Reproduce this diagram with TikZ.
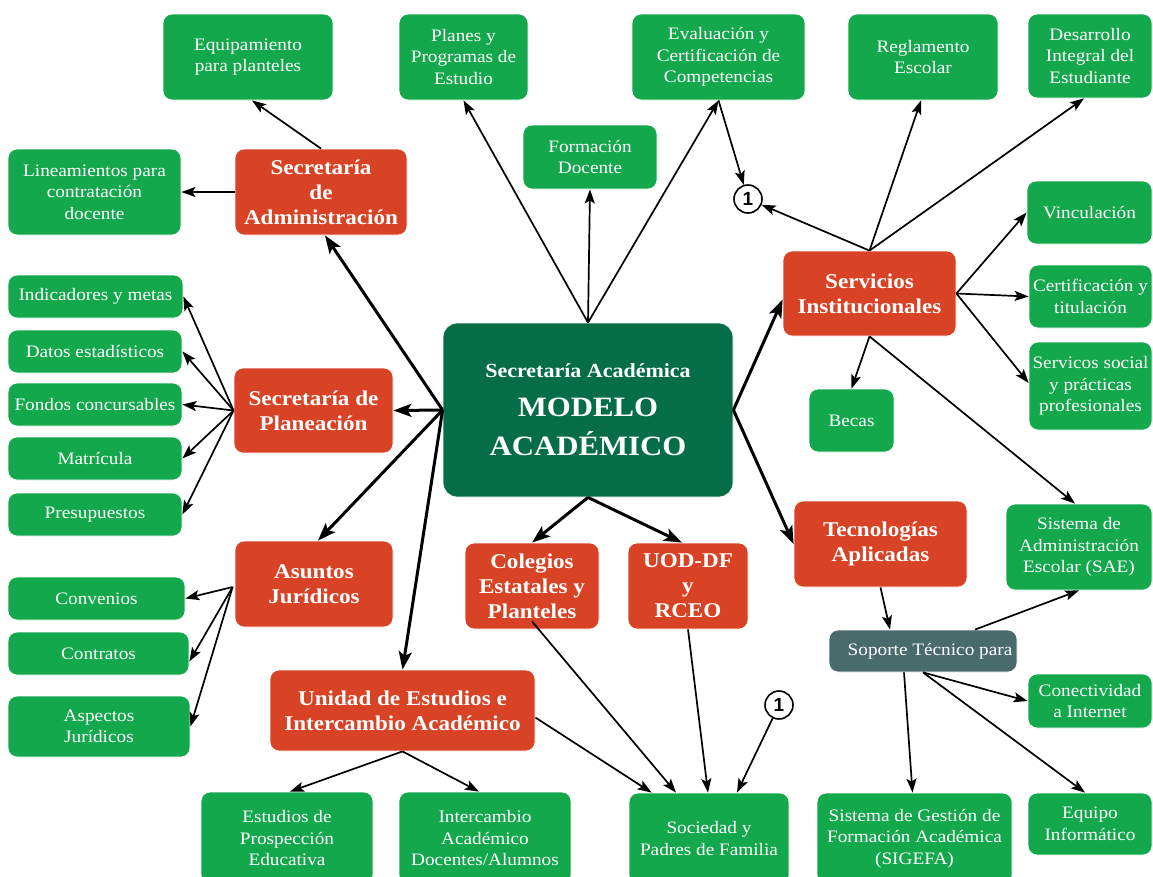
\documentclass[tikz,border=0pt]{standalone}
\usepackage{fontspec}
\setmainfont{Liberation Serif}[FakeStretch=1.1]
\newfontfamily\numfont{Liberation Sans}
\usetikzlibrary{arrows.meta,calc}
\definecolor{gfill}{HTML}{13A84B}
\definecolor{rfill}{HTML}{D84325}
\definecolor{cfill}{HTML}{066E46}
\definecolor{sfill}{HTML}{4A6B6B}
\tikzset{
  base/.style={rounded corners=9pt, draw=white, line width=0.8pt, text=white, align=center, inner sep=0pt},
  sz/.style 2 args={minimum width=#1pt, minimum height=#2pt},
  gnode/.style={base, fill=gfill, font=\fontsize{17.5}{21.5}\selectfont},
  rnode/.style={base, fill=rfill, font=\fontsize{21}{25}\selectfont\bfseries},
  cnode/.style={base, fill=cfill, rounded corners=14pt, font=\fontsize{28}{39}\selectfont\bfseries},
  snode/.style={base, fill=sfill, font=\fontsize{17.5}{21.5}\selectfont},
  cnum/.style={circle, draw=black, line width=1.6pt, fill=white, minimum size=28pt, inner sep=0pt, font=\numfont\bfseries\fontsize{19}{19}\selectfont},
  ar/.style={line width=1.7pt, -{Stealth[length=14pt,width=10pt,inset=3pt]}},
  tar/.style={line width=3pt, -{Stealth[length=18pt,width=13pt,inset=4pt]}}
}
\begin{document}
\begin{tikzpicture}[x=1pt,y=-1pt]
\path[use as bounding box] (0,0) rectangle (1153,876);
\clip (0,0) rectangle (1153,876);
% top row
\node[gnode, sz={170}{86}] (equip) at (248,57) {Equipamiento\\para planteles};
\node[gnode, sz={129}{86}] (planes) at (463.5,57) {Planes y\\Programas de\\Estudio};
\node[gnode, sz={134}{64}] (formacion) at (590,157) {Formación\\Docente};
\node[gnode, sz={173}{86}] (evalua) at (718.5,57) {Evaluación y\\Certificación de\\Competencias};
\node[gnode, sz={150}{86}] (regla) at (923,57) {Reglamento\\Escolar};
\node[gnode, sz={124}{84}] (desarr) at (1090,56) {Desarrollo\\Integral del\\Estudiante};
\node[cnum] (uno) at (748,199) {1};
% left
\node[rnode, sz={172}{86}] (secadm) at (321,192) {Secretaría\\de\\Administración};
\node[gnode, sz={173}{86}] (lineam) at (94.5,192) {Lineamientos para\\contratación\\docente};
\node[gnode, sz={175}{43}] (indic) at (95.5,296.5) {Indicadores y metas};
\node[gnode, sz={174}{43}] (datos) at (95,351.5) {Datos estadísticos};
\node[gnode, sz={174}{43}] (fondos) at (95,404.5) {Fondos concursables};
\node[gnode, sz={174}{43}] (matric) at (95,458.5) {Matrícula};
\node[gnode, sz={174}{43}] (presup) at (95,514.5) {Presupuestos};
\node[rnode, sz={159}{85}] (secplan) at (313.5,410.5) {Secretaría de\\Planeación};
\node[rnode, sz={158}{86}] (asuntos) at (314,584) {Asuntos\\Jurídicos};
\node[gnode, sz={177}{43}] (conven) at (96.5,598.5) {Convenios};
\node[gnode, sz={181}{43}] (contra) at (98.5,653.5) {Contratos};
\node[gnode, sz={182}{61}] (aspect) at (99,726.5) {Aspectos\\Jurídicos};
% center
\node[cnode, sz={290}{174}] (center) at (588,410) {{\fontsize{20}{39}\selectfont Secretaría Académica}\\MODELO\\ACADÉMICO};
% right
\node[rnode, sz={173}{85}] (servicios) at (869.5,293.5) {Servicios\\Institucionales};
\node[gnode, sz={125}{63}] (vinc) at (1089.5,212.5) {Vinculación};
\node[gnode, sz={123}{63}] (certif) at (1090.5,296.5) {Certificación y\\titulación};
\node[gnode, sz={123}{88}] (servsoc) at (1090.5,386) {Servicos social\\y prácticas\\profesionales};
\node[gnode, sz={85}{63}] (becas) at (851.5,420.5) {Becas};
\node[rnode, sz={173}{86}] (tecno) at (880.5,544) {Tecnologías\\Aplicadas};
\node[gnode, sz={146}{86}] (sae) at (1079,547) {Sistema de\\Administración\\Escolar (SAE)};
\node[snode, sz={188}{42}] (soporte) at (923,651) {\hspace*{14pt}Soporte Técnico para};
\node[gnode, sz={124}{54}] (conect) at (1090,701) {Conectividad\\a Internet};
\node[gnode, sz={195}{91}] (sigefa) at (914.5,838.5) {Sistema de Gestión de\\Formación Académica\\(SIGEFA)};
\node[gnode, sz={124}{62}] (equipo) at (1090,824) {Equipo\\Informático};
% bottom middle
\node[rnode, sz={134}{86}] (colegios) at (532,586) {Colegios\\Estatales y\\Planteles};
\node[rnode, sz={120}{86}] (uod) at (688,586) {UOD-DF\\y\\RCEO};
\node[rnode, sz={265}{81}] (unidad) at (402.5,710.5) {Unidad de Estudios e\\Intercambio Académico};
\node[gnode, sz={172}{92}] (estud) at (287,838) {Estudios de\\Prospección\\Educativa};
\node[gnode, sz={172}{92}] (interc) at (485,838) {Intercambio\\Académico\\Docentes/Alumnos};
\node[gnode, sz={160}{91}] (socied) at (709,838.5) {Sociedad y\\Padres de Familia};
\node[cnum] (dos) at (779,705) {1};
% connectors: center
\draw[ar] (center.north) -- (planes.south);
\draw[ar] (center.north) -- (formacion.south);
\draw[ar] (center.north) -- (evalua.south);
\draw[ar] (evalua.south) -- (uno);
\draw[tar] (center.west) -- (secplan.east);
\draw[tar] (center.west) -- ($(secadm.south)+(4,0)$);
\draw[tar] (center.west) -- ($(asuntos.north)+(4,0)$);
\draw[tar] (center.west) -- (unidad.north);
\draw[tar] (center.east) -- ($(servicios.west)+(0,6)$);
\draw[tar] (center.east) -- (tecno.west);
\draw[tar] (center.south) -- (colegios.north);
\draw[tar] (center.south) -- ($(uod.north)+(-6,0)$);
% left
\draw[ar] (secadm.north) -- ($(equip.south)+(4,0)$);
\draw[ar] (secadm.west) -- (lineam.east);
\draw[ar] (secplan.west) -- (indic.east);
\draw[ar] (secplan.west) -- (datos.east);
\draw[ar] (secplan.west) -- (fondos.east);
\draw[ar] (secplan.west) -- (matric.east);
\draw[ar] (secplan.west) -- (presup.east);
\draw[ar] ($(asuntos.west)+(-2,3)$) -- (conven.east);
\draw[ar] ($(asuntos.west)+(-2,3)$) -- ($(contra.east)+(0,8)$);
\draw[ar] ($(asuntos.west)+(-2,3)$) -- (aspect.east);
\draw[ar] (unidad.south) -- ($(estud.north)+(3,0)$);
\draw[ar] (unidad.south) -- ($(interc.north)+(-6,0)$);
% right
\draw[ar] (servicios.north) -- (uno);
\draw[ar] (servicios.north) -- ($(regla.south)+(-2,0)$);
\draw[ar] (servicios.north) -- ($(desarr.south)+(-6,0)$);
\draw[ar] (servicios.east) -- (vinc.west);
\draw[ar] (servicios.east) -- (certif.west);
\draw[ar] (servicios.east) -- ($(servsoc.west)+(0,-3)$);
\draw[ar] (servicios.south) -- (becas.north);
\draw[ar] (servicios.south) -- ($(sae.north)+(-4,0)$);
\draw[ar] (tecno.south) -- ($(soporte.north)+(-33,0)$);
\draw[ar] ($(soporte.north)+(52,0)$) -- (sae.south);
\draw[ar] (soporte.south) -- (conect.west);
\draw[ar] ($(soporte.south)+(-19,0)$) -- ($(sigefa.north)+(-2,0)$);
\draw[ar] (soporte.south) -- ($(equipo.north)+(-5,0)$);
% bottom
\draw[ar] ($(colegios.south)+(0,-8)$) -- ($(socied.north)+(-33,0)$);
\draw[ar] (uod.south) -- ($(socied.north)+(-1,0)$);
\draw[ar] ($(unidad.east)+(0,7)$) -- ($(socied.north west)+(23,0)$);
\draw[ar] (dos) -- ($(socied.north)+(28,0)$);
\end{tikzpicture}
\end{document}
